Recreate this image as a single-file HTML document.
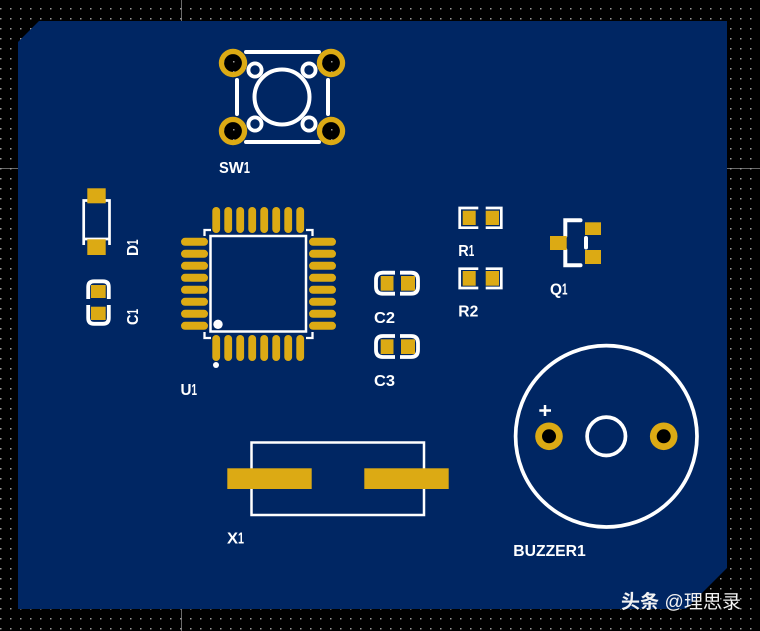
<!DOCTYPE html>
<html><head><meta charset="utf-8">
<style>
html,body{margin:0;padding:0;background:#000;width:760px;height:631px;overflow:hidden}
svg{display:block}
text{font-family:"Liberation Sans",sans-serif;font-weight:bold;fill:#fff;font-size:16px}
</style></head><body>
<svg width="760" height="631" viewBox="0 0 760 631" xmlns="http://www.w3.org/2000/svg">
<defs>
<pattern id="g" x="0" y="8" width="10" height="10" patternUnits="userSpaceOnUse"><rect width="1.5" height="1.5" fill="#999"/></pattern>
<g id="th"><circle r="14.200" fill="#dcaa14"/><circle r="8.900" fill="#000"/><circle r="8.900" fill="url(#g)"/></g>
<g id="th2"><circle r="13.800" fill="#dcaa14"/><circle r="7" fill="#000"/></g>
</defs>
<rect width="760" height="631" fill="#000"/>
<rect x="181" y="0" width="1" height="631" fill="#6a6a6a"/>
<rect x="0" y="168" width="760" height="1" fill="#6a6a6a"/>
<rect width="760" height="631" fill="url(#g)"/>
<polygon points="18,42 39,21 727,21 727,568 686,609 18,609" fill="#002663"/>

<!-- SW1 -->
<g fill="none" stroke="#fff" stroke-width="4" stroke-linecap="round">
<path d="M246 52H319M246 142H319M237 80V114M328 80V114"/>
<circle cx="282" cy="97" r="27.500"/>
</g>
<g fill="none" stroke="#fff" stroke-width="3.800">
<circle cx="255" cy="70" r="6.600"/><circle cx="309" cy="70" r="6.600"/><circle cx="255" cy="124" r="6.600"/><circle cx="309" cy="124" r="6.600"/>
</g>
<use href="#th" x="233" y="63"/><use href="#th" x="331" y="63"/><use href="#th" x="233" y="131"/><use href="#th" x="331" y="131"/>
<text x="219" y="173"><tspan textLength="9.800" lengthAdjust="spacingAndGlyphs">S</tspan><tspan textLength="15" lengthAdjust="spacingAndGlyphs">W</tspan><tspan textLength="6.200" lengthAdjust="spacingAndGlyphs">1</tspan></text>

<!-- D1 -->
<path d="M83.700 245V200.500H109.500V245M83 239H110" fill="none" stroke="#fff" stroke-width="2.700"/>
<rect x="87.300" y="188.300" width="18.400" height="15" fill="#dcaa14"/>
<rect x="87.300" y="239.300" width="18.400" height="15.700" fill="#dcaa14"/>
<text transform="translate(138,256) rotate(-90)"><tspan textLength="11" lengthAdjust="spacingAndGlyphs">D</tspan><tspan textLength="5.500" lengthAdjust="spacingAndGlyphs">1</tspan></text>

<!-- C1 -->
<path d="M88.200 299V287Q88.200 281.300 94 281.300H103Q108.800 281.300 108.800 287V299M88.200 305V318Q88.200 323.800 94 323.800H103Q108.800 323.800 108.800 318V305" fill="none" stroke="#fff" stroke-width="3.800"/>
<rect x="91" y="285" width="14.700" height="13" fill="#dcaa14"/>
<rect x="91" y="306.700" width="14.700" height="13.300" fill="#dcaa14"/>
<text transform="translate(138,325) rotate(-90)"><tspan textLength="10.500" lengthAdjust="spacingAndGlyphs">C</tspan><tspan textLength="5.500" lengthAdjust="spacingAndGlyphs">1</tspan></text>

<!-- U1 -->
<g fill="#dcaa14">
<rect x="212.300" y="207" width="7.800" height="26" rx="3.900"/><rect x="224.300" y="207" width="7.800" height="26" rx="3.900"/><rect x="236.300" y="207" width="7.800" height="26" rx="3.900"/><rect x="248.300" y="207" width="7.800" height="26" rx="3.900"/><rect x="260.300" y="207" width="7.800" height="26" rx="3.900"/><rect x="272.300" y="207" width="7.800" height="26" rx="3.900"/><rect x="284.300" y="207" width="7.800" height="26" rx="3.900"/><rect x="296.300" y="207" width="7.800" height="26" rx="3.900"/>
<rect x="212.300" y="335" width="7.800" height="26" rx="3.900"/><rect x="224.300" y="335" width="7.800" height="26" rx="3.900"/><rect x="236.300" y="335" width="7.800" height="26" rx="3.900"/><rect x="248.300" y="335" width="7.800" height="26" rx="3.900"/><rect x="260.300" y="335" width="7.800" height="26" rx="3.900"/><rect x="272.300" y="335" width="7.800" height="26" rx="3.900"/><rect x="284.300" y="335" width="7.800" height="26" rx="3.900"/><rect x="296.300" y="335" width="7.800" height="26" rx="3.900"/>
<rect x="181" y="237.800" width="27" height="8" rx="4"/><rect x="181" y="249.800" width="27" height="8" rx="4"/><rect x="181" y="261.800" width="27" height="8" rx="4"/><rect x="181" y="273.800" width="27" height="8" rx="4"/><rect x="181" y="285.800" width="27" height="8" rx="4"/><rect x="181" y="297.800" width="27" height="8" rx="4"/><rect x="181" y="309.800" width="27" height="8" rx="4"/><rect x="181" y="321.800" width="27" height="8" rx="4"/>
<rect x="309" y="237.800" width="27" height="8" rx="4"/><rect x="309" y="249.800" width="27" height="8" rx="4"/><rect x="309" y="261.800" width="27" height="8" rx="4"/><rect x="309" y="273.800" width="27" height="8" rx="4"/><rect x="309" y="285.800" width="27" height="8" rx="4"/><rect x="309" y="297.800" width="27" height="8" rx="4"/><rect x="309" y="309.800" width="27" height="8" rx="4"/><rect x="309" y="321.800" width="27" height="8" rx="4"/>
</g>
<rect x="210.500" y="236" width="95.500" height="95.500" fill="none" stroke="#fff" stroke-width="2.500"/>
<path d="M204.500 236V230H211M306 230H312.500V236M204.500 332V338H211M306 338H312.500V332" fill="none" stroke="#fff" stroke-width="2.300"/>
<circle cx="218" cy="324.300" r="4.700" fill="#fff"/>
<circle cx="216" cy="365" r="3" fill="#fff"/>
<text x="180.500" y="395"><tspan textLength="11" lengthAdjust="spacingAndGlyphs">U</tspan><tspan textLength="5.500" lengthAdjust="spacingAndGlyphs">1</tspan></text>

<!-- C2 C3 -->
<path d="M395 272.700H383Q376 272.700 376 279.700V286.700Q376 293.700 383 293.700H395M400 272.700H411Q418 272.700 418 279.700V286.700Q418 293.700 411 293.700H400" fill="none" stroke="#fff" stroke-width="3.800"/>
<rect x="380.700" y="276" width="12.800" height="14.700" fill="#dcaa14"/><rect x="401" y="276" width="14" height="14.700" fill="#dcaa14"/>
<text x="374" y="323" textLength="21" lengthAdjust="spacingAndGlyphs">C2</text>
<path d="M395 336H383Q376 336 376 343V350Q376 357 383 357H395M400 336H411Q418 336 418 343V350Q418 357 411 357H400" fill="none" stroke="#fff" stroke-width="3.800"/>
<rect x="380.700" y="339.300" width="12.800" height="14.700" fill="#dcaa14"/><rect x="401" y="339.300" width="14" height="14.700" fill="#dcaa14"/>
<text x="374" y="386" textLength="21" lengthAdjust="spacingAndGlyphs">C3</text>

<!-- R1 R2 -->
<path d="M478.300 208H459.700V227.700H478.300M485.700 208H501.300V227.700H485.700" fill="none" stroke="#fff" stroke-width="2.700"/>
<rect x="462.700" y="210.700" width="13" height="14.300" fill="#dcaa14"/><rect x="485.700" y="210.700" width="13.300" height="14.300" fill="#dcaa14"/>
<text x="458.300" y="256"><tspan textLength="10.500" lengthAdjust="spacingAndGlyphs">R</tspan><tspan textLength="5.500" lengthAdjust="spacingAndGlyphs">1</tspan></text>
<path d="M478.300 268.700H459.700V288H478.300M485.700 268.700H501.300V288H485.700" fill="none" stroke="#fff" stroke-width="2.700"/>
<rect x="462.700" y="271" width="13" height="14.700" fill="#dcaa14"/><rect x="485.700" y="271" width="13.300" height="14.700" fill="#dcaa14"/>
<text x="458.300" y="316.700" textLength="20" lengthAdjust="spacingAndGlyphs">R2</text>

<!-- Q1 -->
<path d="M580.500 220.300H565.300V236M565.300 250V265.300H580.500M586 238V247.500" fill="none" stroke="#fff" stroke-width="4" stroke-linecap="round"/>
<rect x="550" y="236" width="16.700" height="14" fill="#dcaa14"/>
<rect x="585" y="222.300" width="16" height="12.700" fill="#dcaa14"/>
<rect x="585" y="250" width="16" height="14" fill="#dcaa14"/>
<text x="550" y="294.300"><tspan textLength="12" lengthAdjust="spacingAndGlyphs">Q</tspan><tspan textLength="5.500" lengthAdjust="spacingAndGlyphs">1</tspan></text>

<!-- X1 -->
<rect x="251.500" y="442.500" width="172.500" height="72.500" fill="none" stroke="#fff" stroke-width="2.500"/>
<rect x="227.300" y="468.300" width="84.400" height="20.700" fill="#dcaa14"/>
<rect x="364.300" y="468.300" width="84.400" height="20.700" fill="#dcaa14"/>
<text x="227" y="543.300"><tspan textLength="11" lengthAdjust="spacingAndGlyphs">X</tspan><tspan textLength="6" lengthAdjust="spacingAndGlyphs">1</tspan></text>

<!-- BUZZER -->
<circle cx="606.300" cy="436.300" r="90.700" fill="none" stroke="#fff" stroke-width="3.700"/>
<circle cx="606.300" cy="436.300" r="19.200" fill="none" stroke="#fff" stroke-width="3.700"/>
<path d="M539.300 410.500H551M545 405V416" stroke="#fff" stroke-width="2.500" fill="none"/>
<use href="#th2" x="549" y="436.300"/><use href="#th2" x="663.700" y="436.300"/>
<text x="513.300" y="556" textLength="72.400" lengthAdjust="spacingAndGlyphs">BUZZER1</text>

<text x="621" y="608" textLength="120" style="font-family:'Liberation Sans','Noto Sans CJK SC',sans-serif;font-weight:normal;font-size:19px;fill:#f2f2f2"><tspan font-weight="bold">头条</tspan> @理思录</text>
</svg>
</body></html>
